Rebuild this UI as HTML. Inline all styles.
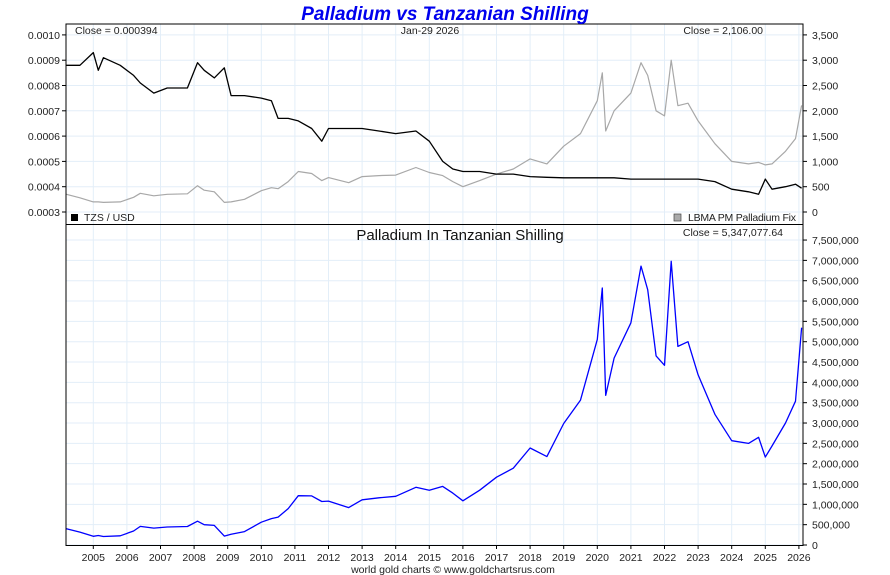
<!DOCTYPE html>
<html><head><meta charset="utf-8"><style>
html,body{margin:0;padding:0;background:#fff;}
svg{display:block;font-family:"Liberation Sans",Arial,sans-serif;}
</style></head><body>
<svg id="chart" width="890" height="575" viewBox="0 0 890 575" xmlns="http://www.w3.org/2000/svg">
<rect width="890" height="575" fill="#fff"/>
<g id="grid"></g>
<g id="series"></g>
<rect x="66" y="24" width="737" height="521.5" fill="none" stroke="#000" stroke-width="1"/>
<line x1="66" y1="224.5" x2="803" y2="224.5" stroke="#000"/>
<g id="axes" font-size="10.5" fill="#222"></g>
<text x="445" y="20" text-anchor="middle" font-size="19" font-weight="bold" font-style="italic" fill="#0000ee">Palladium vs Tanzanian Shilling</text>
<text x="75" y="34" font-size="10.5" fill="#222">Close = 0.000394</text>
<text x="430" y="34" text-anchor="middle" font-size="10.5" fill="#222">Jan-29  2026</text>
<text x="763" y="34" text-anchor="end" font-size="10.5" fill="#222">Close = 2,106.00</text>
<rect x="71" y="214" width="7" height="7" fill="#000"/>
<text x="84" y="221" font-size="10.5" fill="#222">TZS / USD</text>
<rect x="674" y="214" width="7" height="7" fill="#aaa" stroke="#444" stroke-width="0.7"/>
<text x="688" y="221" font-size="10.5" textLength="108" fill="#222">LBMA PM Palladium Fix</text>
<text x="460" y="240" text-anchor="middle" font-size="15" fill="#111">Palladium In Tanzanian Shilling</text>
<text x="783" y="236" text-anchor="end" font-size="10.5" fill="#222">Close = 5,347,077.64</text>
<text x="453" y="573" text-anchor="middle" font-size="10.5" fill="#222">world gold charts © www.goldchartsrus.com</text>
</svg>
<script>
const dates = [2004.2,2004.6,2005.0,2005.15,2005.3,2005.8,2006.2,2006.4,2006.8,2007.2,2007.8,2008.1,2008.3,2008.6,2008.9,2009.1,2009.5,2010.0,2010.3,2010.5,2010.8,2011.1,2011.5,2011.8,2012.0,2012.6,2013.0,2013.5,2014.0,2014.6,2015.0,2015.4,2015.7,2016.0,2016.5,2017.0,2017.5,2018.0,2018.5,2019.0,2019.5,2020.0,2020.15,2020.25,2020.5,2021.0,2021.3,2021.5,2021.75,2022.0,2022.2,2022.4,2022.7,2023.0,2023.5,2024.0,2024.5,2024.8,2025.0,2025.2,2025.6,2025.9,2026.08];
const tzsUsd = [0.00088,0.00088,0.00093,0.00086,0.00091,0.00088,0.00084,0.00081,0.00077,0.00079,0.00079,0.00089,0.00086,0.00083,0.00087,0.00076,0.00076,0.00075,0.00074,0.00067,0.00067,0.00066,0.00063,0.00058,0.00063,0.00063,0.00063,0.00062,0.00061,0.00062,0.00058,0.00050,0.00047,0.00046,0.00046,0.00045,0.00045,0.00044,0.000437,0.000435,0.000435,0.000435,0.000435,0.000435,0.000435,0.00043,0.00043,0.00043,0.00043,0.00043,0.00043,0.00043,0.00043,0.00043,0.00042,0.00039,0.00038,0.00037,0.00043,0.00039,0.00040,0.00041,0.000394];
const palladium = [350,280,200,200,190,200,290,370,320,350,360,520,430,400,190,200,250,420,480,460,600,800,760,620,680,580,700,720,730,880,780,720,600,500,620,750,850,1050,950,1300,1550,2200,2750,1600,2000,2350,2950,2700,2000,1900,3000,2100,2150,1800,1350,1000,950,980,930,950,1200,1450,2106];
const leftTicks = [0.0003,0.0004,0.0005,0.0006,0.0007,0.0008,0.0009,0.0010];
const rightTicks = [0,500,1000,1500,2000,2500,3000,3500];
const lowerTicks = [0,500000,1000000,1500000,2000000,2500000,3000000,3500000,4000000,4500000,5000000,5500000,6000000,6500000,7000000,7500000];
const yearTicks = [2005,2006,2007,2008,2009,2010,2011,2012,2013,2014,2015,2016,2017,2018,2019,2020,2021,2022,2023,2024,2025,2026];

const NS="http://www.w3.org/2000/svg";
const X0=66,X1=803;
const xS = t => 93.3 + (t-2005)*33.6;
const yTzs = v => 212 - (v-0.0003)/0.0001*25.3;
const yPd = v => 212 - v/500*25.3;
const yLow = v => 545 - v/500000*20.33;
function mk(tag,attrs,parent){const e=document.createElementNS(NS,tag);for(const k in attrs)e.setAttribute(k,attrs[k]);parent.appendChild(e);return e;}
const grid=document.getElementById('grid'),axes=document.getElementById('axes'),ser=document.getElementById('series');
const gc="#e3eef8";
yearTicks.forEach(y=>{const x=xS(y);
 const l=mk('line',{x1:x,y1:24,x2:x,y2:545,stroke:gc},grid);
 
 
 const tk=mk('line',{x1:x,y1:545,x2:x,y2:549,stroke:'#000'},axes);
 
 
 const t=mk('text',{x:x,y:561,'text-anchor':'middle'},axes);t.textContent=y;
 
 });
leftTicks.forEach(v=>{const y=yTzs(v);
 const l=mk('line',{x1:X0,y1:y,x2:X1,y2:y,stroke:gc},grid);
 
 
 mk('line',{x1:62,y1:y,x2:66,y2:y,stroke:'#000'},axes);
 const t=mk('text',{x:60,y:y+4,'text-anchor':'end'},axes);t.textContent=v.toFixed(4);
 
 });
rightTicks.forEach(v=>{const y=yPd(v);
 mk('line',{x1:803,y1:y,x2:807,y2:y,stroke:'#000'},axes);
 const t=mk('text',{x:812,y:y+4},axes);t.textContent=v.toLocaleString('en-US');
 
 });
lowerTicks.forEach(v=>{const y=yLow(v);
 const l=mk('line',{x1:X0,y1:y,x2:X1,y2:y,stroke:gc},grid);
 
 
 mk('line',{x1:803,y1:y,x2:807,y2:y,stroke:'#000'},axes);
 const t=mk('text',{x:812,y:y+4},axes);t.textContent=v.toLocaleString('en-US');
 
 });
function path(ys,fn,color,w){let d='';dates.forEach((t,i)=>{d+=(i?'L':'M')+xS(t).toFixed(1)+','+fn(ys[i]).toFixed(1);});
 return mk('path',{d:d,fill:'none',stroke:color,'stroke-width':w,'stroke-linejoin':'round'},ser);}
const pg=path(palladium,yPd,'#a8a8a8',1.2);


const tl=path(tzsUsd,yTzs,'#000',1.3);


const lowVals=palladium.map((p,i)=>p/tzsUsd[i]);
const bl=path(lowVals,yLow,'#0000ff',1.3);


</script>
</body></html>
